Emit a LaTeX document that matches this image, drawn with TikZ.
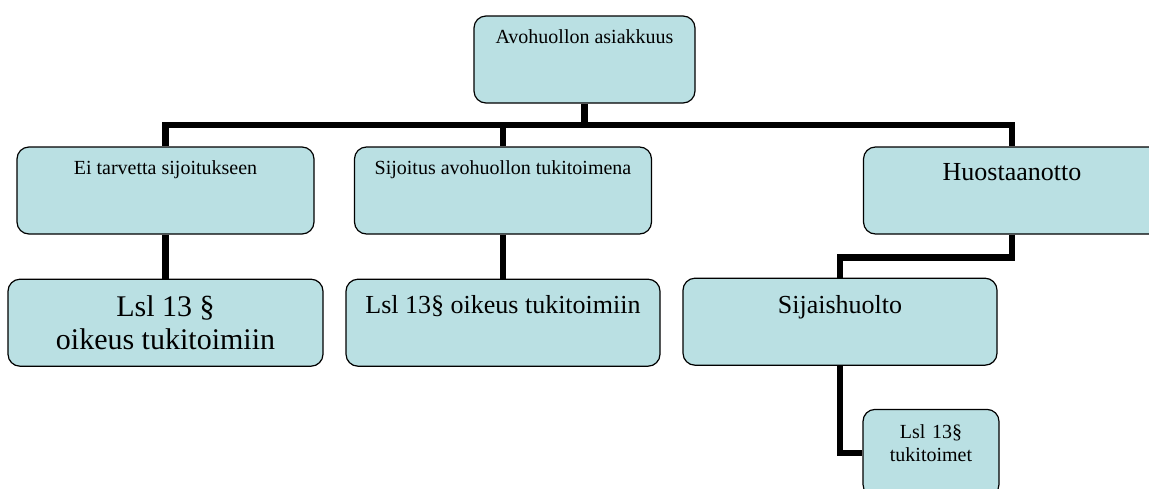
\documentclass[tikz,border=0pt]{standalone}
\usepackage{fontspec}
\setmainfont{Liberation Serif}
\usetikzlibrary{positioning}
\definecolor{boxblue}{RGB}{186,224,227}
\tikzset{
  box/.style={draw, fill=boxblue, rounded corners=12pt, line width=1.2pt, inner sep=0pt, font=\fontsize{20}{23}\selectfont},
  link/.style={line width=6.5pt}
}
\begin{document}
\begin{tikzpicture}[x=1pt, y=1pt, node distance = 44pt]
	\useasboundingbox (0,0) rectangle (1149,-488);
	\clip (0,0) rectangle (1149,-488);
	\node (t)[box, minimum width=221pt, text height=27pt, text depth=60pt] at (584.5,-59.5) {Avohuollon asiakkuus};
	\coordinate (j) at (584.5,-125);
	\node (e)[box, minimum width=297pt, text height=27pt, text depth=60pt] at (165.5,-190.5) {Ei tarvetta sijoitukseen};
	\node (s)[box, minimum width=297pt, text height=27pt, text depth=60pt] at (503,-190.5) {Sijoitus avohuollon tukitoimena};
	\node (h)[box, minimum width=297pt, text height=33pt, text depth=54pt, font=\fontsize{26}{30}\selectfont] at (1012,-190.5) {Huostaanotto};
	\node (l1)[box, minimum width=315pt, minimum height=87pt, align=center, font=\fontsize{30}{33}\selectfont, below=of e] {Lsl 13 §\\oikeus tukitoimiin};
	\node (l2)[box, minimum width=314pt, text height=34pt, text depth=53pt, font=\fontsize{26}{30}\selectfont, below=of s] {Lsl 13§ oikeus tukitoimiin};
	\node (sh)[box, minimum width=314pt, text height=35pt, text depth=52pt, font=\fontsize{26}{30}\selectfont, below=43pt of h, xshift=-172pt] {Sijaishuolto};
	\node (lt)[box, text width=136pt, align=center, text height=29pt, text depth=58pt, below=43pt of sh, xshift=91pt] {Lsl 13§\\tukitoimet};
	\draw[link] (t.south) -- (j);
	\draw[link] (j) -| (e.north);
	\draw[link] (j) -| (s.north);
	\draw[link] (j) -| (h.north);
	\draw[link] (e.south) -- (l1.north);
	\draw[link] (s.south) -- (l2.north);
	\draw[link] (h.south) -- ++(0,-23) -| (sh.north);
	\draw[link] (sh.south) |- (lt.west);
\end{tikzpicture}
\end{document}
